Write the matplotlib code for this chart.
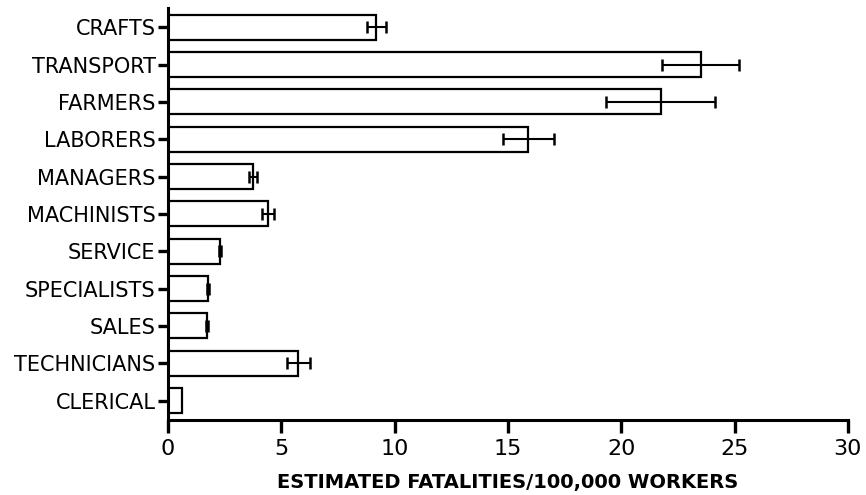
import matplotlib
matplotlib.use("Agg")
import matplotlib.pyplot as plt
import numpy as np

# occupational groups, top to bottom
categories = ["CRAFTS", "TRANSPORT", "FARMERS", "LABORERS", "MANAGERS",
              "MACHINISTS", "SERVICE", "SPECIALISTS", "SALES",
              "TECHNICIANS", "CLERICAL"]
rates = [9.2, 23.5, 21.75, 15.9, 3.76, 4.42, 2.29, 1.78, 1.72, 5.75, 0.62]
errors = [0.4, 1.7, 2.4, 1.13, 0.18, 0.25, 0.06, 0.05, 0.05, 0.5, 0.0]
xticks = [0, 5, 10, 15, 20, 25, 30]

fig = plt.figure(figsize=(8.66, 4.95), dpi=100)
ax = fig.add_axes([0.194, 0.1515, 0.785, 0.8325])

ypos = np.arange(len(categories))[::-1]
ax.barh(ypos, rates, height=0.67, color="white", edgecolor="black",
        linewidth=1.6, zorder=2)

# only groups with a reported spread get error bars
rates_a = np.array(rates)
errors_a = np.array(errors)
has_err = errors_a > 0
ax.errorbar(rates_a[has_err], ypos[has_err], xerr=errors_a[has_err],
            fmt="none", ecolor="black", elinewidth=1.5, capsize=4.5,
            capthick=1.8, zorder=3)

ax.set_xlim(0, 30)
ax.set_ylim(-0.52, 10.52)
ax.set_xticks(xticks)
ax.set_xticklabels([str(t) for t in xticks], fontsize=16)
ax.set_yticks(ypos)
ax.set_yticklabels(categories, fontsize=15)

for side in ("top", "right"):
    ax.spines[side].set_visible(False)
for side in ("left", "bottom"):
    ax.spines[side].set_linewidth(2.2)

ax.tick_params(axis="x", direction="out", length=9, width=2.4, pad=5)
ax.tick_params(axis="y", direction="out", length=7, width=2.4, pad=2)

ax.set_xlabel("ESTIMATED FATALITIES/100,000 WORKERS", fontsize=14,
              fontweight="bold", labelpad=10)

fig.savefig("out.png", dpi=100)
